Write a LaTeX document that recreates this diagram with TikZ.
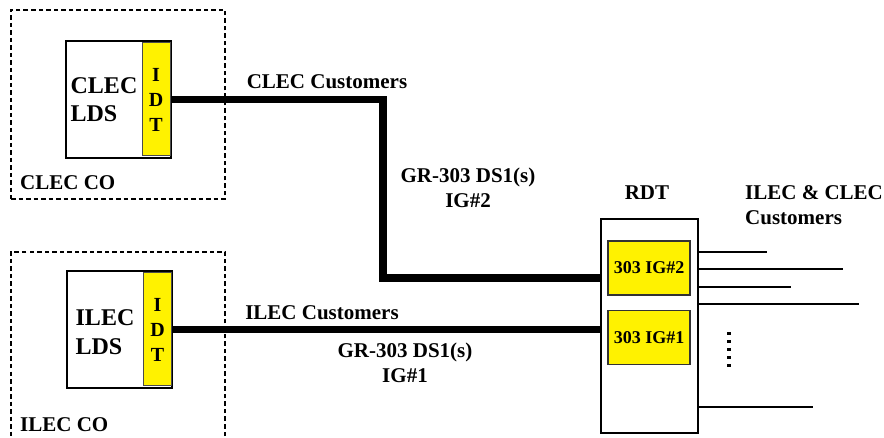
\documentclass[tikz,border=0pt]{standalone}
\usepackage{fontspec}
\setmainfont{Liberation Serif}
\newcommand{\client}[2]{\draw[custline] (rdt.east |- 0,#1) -- (#2,#1)}
\tikzset{
	lab/.style={font=\bfseries\fontsize{21}{25}\selectfont, inner sep=0pt, align=center},
	office/.style={draw, line width=1.4pt, dash pattern=on 4.5pt off 3pt},
	ldsbox/.style={draw, line width=2pt, fill=white, minimum width=105pt, minimum height=117pt},
	idtbox/.style={draw=black!70, line width=1pt, fill=yellow, minimum width=28pt, minimum height=113pt, inner sep=0pt,
		font=\bfseries\fontsize{20}{25}\selectfont, align=center},
	igbox/.style={draw=black!80, line width=1.2pt, fill=yellow, minimum width=82pt, minimum height=54pt, inner sep=0pt,
		font=\bfseries\fontsize{18}{22}\selectfont},
	trunk/.style={line width=7.5pt},
	custline/.style={line width=1.2pt}
}

\begin{document}
\begin{tikzpicture}[x=1pt, y=-1pt]
	\useasboundingbox (0,0) rectangle (884,438);
%Central offices
	\node[office, minimum width=214pt, minimum height=189pt] (clecco) at (118,104.5) {};
	\node[office, minimum width=214pt, minimum height=210pt] (ilecco) at (118,357) {};
	\node[lab, anchor=west] (clecco-lab) at (20,183) {CLEC CO};
	\node[lab, anchor=west] (ilecco-lab) at (20,425) {ILEC CO};
%The switches
	\node[ldsbox] (cleclds) at (118.5,99.5) {};
	\node[idtbox] (clecidt) at (156,99.5) {I\\D\\T};
	\node[lab, align=left, font=\bfseries\fontsize{24}{28}\selectfont] (cleclds-lab) at (104,100) {CLEC\\LDS};
	\node[ldsbox] (ileclds) at (119.5,329.5) {};
	\node[idtbox] (ilecidt) at (157.5,329.5) {I\\D\\T};
	\node[lab, align=left, font=\bfseries\fontsize{24}{29}\selectfont] (ileclds-lab) at (105,332) {ILEC\\LDS};
%RDT
	\node[draw, line width=2pt, minimum width=97pt, minimum height=214pt] (rdt) at (649.5,326) {};
	\node[igbox] (ig2) at (649,268) {303 IG\#2};
	\node[igbox] (ig1) at (649,337.5) {303 IG\#1};
	\node[lab] (rdt-lab) at (647,193) {RDT};
%Trunks
	\coordinate (coin) at (383,278);
	\draw[trunk] (clecidt.east) -| (coin) -- (coin -| rdt.west);
	\draw[trunk] (ilecidt.east) -- (ilecidt.east -| rdt.west);
	\node[lab] (clec-cust) at (327,82) {CLEC Customers};
	\node[lab] (ilec-cust) at (322,313) {ILEC Customers};
	\node[lab] (gr2) at (468,188) {GR-303 DS1(s)\\IG\#2};
	\node[lab] (gr1) at (405,363) {GR-303 DS1(s)\\IG\#1};
%Customers
	\client{252}{767};
	\client{269}{843};
	\client{287}{791};
	\client{304}{859};
	\client{407}{813};
	\foreach \i in {0,...,4}
		\fill (727,332+8*\i) rectangle ++(4,3);
	\node[lab, align=left, anchor=west] (all-cust) at (745,205) {ILEC \& CLEC\\Customers};
\end{tikzpicture}
\end{document}
